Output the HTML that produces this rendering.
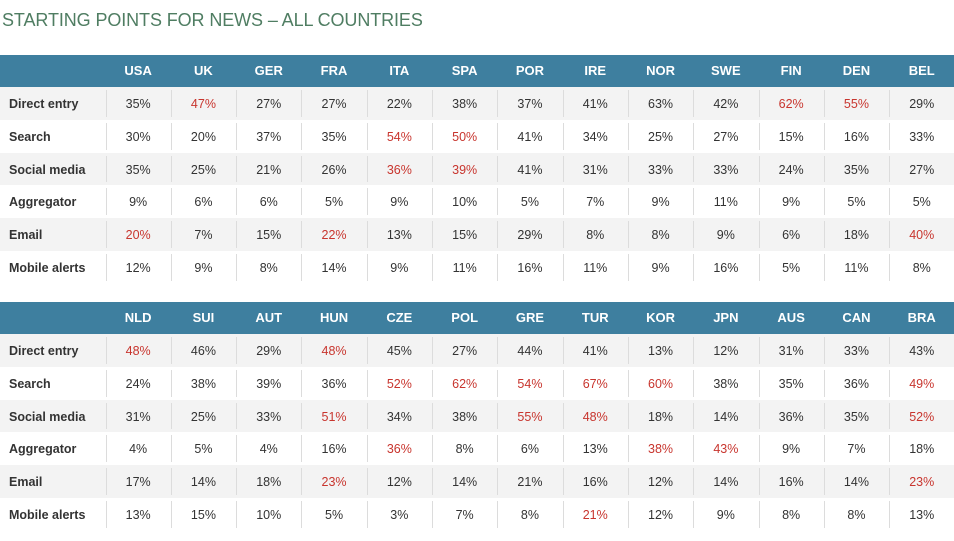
<!DOCTYPE html>
<html><head><meta charset="utf-8"><style>
body{margin:0;width:954px;height:541px;background:#fff;overflow:hidden;position:relative;font-family:"Liberation Sans",sans-serif;}
#title{position:absolute;left:2px;top:10px;font-size:18px;color:#4f7d62;letter-spacing:-0.1px;white-space:nowrap;}
.hdr{position:absolute;left:0;width:954px;height:32px;background:#3e7f9f;}
.row{position:absolute;left:0;width:954px;height:33px;}
.c{position:absolute;text-align:center;font-size:12.5px;color:#333;}
.h{position:absolute;text-align:center;font-size:13px;color:#fff;font-weight:bold;}
.lab{position:absolute;left:9px;font-size:12.5px;color:#333;font-weight:bold;}
.sep{position:absolute;width:1px;background:#dcdcdc;}
.red{color:#c8352e;}
</style></head><body>
<div id="title">STARTING POINTS FOR NEWS – ALL COUNTRIES</div>
<div id="root"></div>
<script>
const rowLabels=["Direct entry","Search","Social media","Aggregator","Email","Mobile alerts"];
const countries1=["USA","UK","GER","FRA","ITA","SPA","POR","IRE","NOR","SWE","FIN","DEN","BEL"];
const values1=[[35,47,27,27,22,38,37,41,63,42,62,55,29],[30,20,37,35,54,50,41,34,25,27,15,16,33],[35,25,21,26,36,39,41,31,33,33,24,35,27],[9,6,6,5,9,10,5,7,9,11,9,5,5],[20,7,15,22,13,15,29,8,8,9,6,18,40],[12,9,8,14,9,11,16,11,9,16,5,11,8]];
const red1=[[0,1,0,0,0,0,0,0,0,0,1,1,0],[0,0,0,0,1,1,0,0,0,0,0,0,0],[0,0,0,0,1,1,0,0,0,0,0,0,0],[0,0,0,0,0,0,0,0,0,0,0,0,0],[1,0,0,1,0,0,0,0,0,0,0,0,1],[0,0,0,0,0,0,0,0,0,0,0,0,0]];
const countries2=["NLD","SUI","AUT","HUN","CZE","POL","GRE","TUR","KOR","JPN","AUS","CAN","BRA"];
const values2=[[48,46,29,48,45,27,44,41,13,12,31,33,43],[24,38,39,36,52,62,54,67,60,38,35,36,49],[31,25,33,51,34,38,55,48,18,14,36,35,52],[4,5,4,16,36,8,6,13,38,43,9,7,18],[17,14,18,23,12,14,21,16,12,14,16,14,23],[13,15,10,5,3,7,8,21,12,9,8,8,13]];
const red2=[[1,0,0,1,0,0,0,0,0,0,0,0,0],[0,0,0,0,1,1,1,1,1,0,0,0,1],[0,0,0,1,0,0,1,1,0,0,0,0,1],[0,0,0,0,1,0,0,0,1,1,0,0,0],[0,0,0,1,0,0,0,0,0,0,0,0,1],[0,0,0,0,0,0,0,1,0,0,0,0,0]];
const root=document.getElementById('root');
const X0=105.5,CW=65.3,RH=32.8;
function mk(cls,css,txt){const d=document.createElement('div');d.className=cls;d.style.cssText=css;if(txt!==undefined)d.textContent=txt;root.appendChild(d);return d;}
function table(top,countries,values,red,n){
  const h=mk('hdr','top:'+top+'px');
  
  
  countries.forEach((c,i)=>{const e=mk('h','left:'+(X0+i*CW)+'px;width:'+CW+'px;top:'+(top+8)+'px',c);
    
    });
  const rt=top+32;
  rowLabels.forEach((l,r)=>{
    const y=rt+r*RH;
    const row=mk('row','top:'+y+'px;background:'+(r%2==0?'#f3f3f3':'#fff'));
    
    
    const lb=mk('lab','top:'+(y+10)+'px',l);
    
    
    for(let i=1;i<=13;i++){const s=mk('sep','left:'+Math.round(X0+(i-1)*CW)+'px;top:'+(y+3)+'px;height:'+(RH-6)+'px');
      
      }
    values[r].forEach((v,i)=>{const e=mk('c'+(red[r][i]?' red':''),'left:'+(X0+i*CW)+'px;width:'+CW+'px;top:'+(y+10)+'px',v+'%');
      
      });
  });
}
table(55,countries1,values1,red1,1);
table(302,countries2,values2,red2,2);
</script>
</body></html>
